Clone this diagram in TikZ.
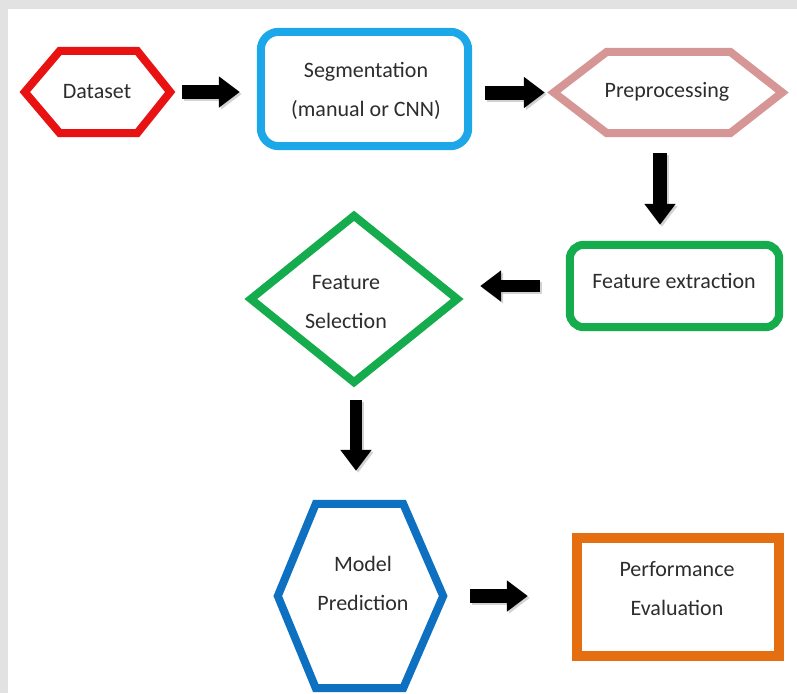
\documentclass[tikz,border=0pt]{standalone}
\usepackage{fontspec}
\setmainfont{Carlito}
\usetikzlibrary{arrows.meta,calc}
\definecolor{dsred}{RGB}{232,18,18}
\definecolor{segblue}{RGB}{28,168,232}
\definecolor{prepink}{RGB}{214,150,150}
\definecolor{fgreen}{RGB}{20,172,76}
\definecolor{mpblue}{RGB}{14,112,192}
\definecolor{peorange}{RGB}{228,110,16}
\definecolor{txtgray}{RGB}{45,45,45}
\definecolor{framegray}{RGB}{226,226,226}
\tikzset{
  box/.style={draw=none,inner sep=0pt,minimum width=#1},
  outline/.style={line width=8pt,line join=miter},
  lbl/.style={text=txtgray,align=center,inner sep=0pt,font=\fontsize{22}{39}\selectfont},
  blockarrow/.style={line width=14pt,-{Triangle[length=21pt,width=30pt]},black},
  arrowshadow/.style={line width=14pt,-{Triangle[length=21pt,width=30pt]},black!35,opacity=0.5,transform canvas={shift={(2pt,-2pt)}}}
}
\begin{document}
\begin{tikzpicture}[x=1pt,y=-1pt]
\useasboundingbox (0,0) rectangle (797,693);
\fill[framegray] (0,0) rectangle (797,693);
\fill[white] (8,9) rectangle (797,693);

% shape nodes (invisible frames)
\node[box=145pt,minimum height=82pt] (ds) at (97.5,92) {};
\node[box=207pt,minimum height=114pt] (seg) at (364.5,89) {};
\node[box=228pt,minimum height=81pt] (pre) at (668,92.5) {};
\node[box=209pt,minimum height=82pt] (fe) at (674.5,286) {};
\node[box=206pt,minimum height=166pt] (fs) at (354,299) {};
\node[box=165pt,minimum height=184pt] (mp) at (360.5,596) {};
\node[box=202pt,minimum height=118pt] (pe) at (678,597) {};

% outlines
\draw[outline,dsred] (ds.west) -- ([xshift=35pt]ds.north west) -- ([xshift=-33pt]ds.north east) -- (ds.east) -- ([xshift=-33pt]ds.south east) -- ([xshift=35pt]ds.south west) -- cycle;
\draw[outline,segblue,rounded corners=18pt] (seg.north west) rectangle (seg.south east);
\draw[outline,prepink] (pre.west) -- ([xshift=53pt]pre.north west) -- ([xshift=-52pt]pre.north east) -- (pre.east) -- ([xshift=-52pt]pre.south east) -- ([xshift=53pt]pre.south west) -- cycle;
\draw[outline,fgreen,rounded corners=14pt] (fe.north west) rectangle (fe.south east);
\draw[outline,fgreen] (fs.north) -- (fs.east) -- (fs.south) -- (fs.west) -- cycle;
\draw[outline,mpblue] (mp.west) -- ([xshift=38pt]mp.north west) -- ([xshift=-40pt]mp.north east) -- (mp.east) -- ([xshift=-40pt]mp.south east) -- ([xshift=38pt]mp.south west) -- cycle;
\draw[line width=10pt,peorange] (pe.north west) rectangle (pe.south east);

% labels
\node[lbl] (dsT) at (97,92) {Dataset};
\node[lbl] (segT) at (366,91) {Segmentation\\(manual or CNN)};
\node[lbl] (preT) at (667,92) {Preprocessing};
\node[lbl] (feT) at (674,281) {Feature extraction};
\node[lbl] (fsT) at (346,302) {Feature\\Selection};
\node[lbl] (mpT) at (363,583) {Model\\Prediction};
\node[lbl] (peT) at (677,589) {Performance\\Evaluation};

% arrow shadows
\draw[arrowshadow,shorten <=12pt,shorten >=21pt] (ds.east) -- (seg.west |- ds.east);
\draw[arrowshadow,shorten <=17pt,shorten >=9pt] (seg.east |- pre.west) -- (pre.west);
\draw[arrowshadow,shorten <=20pt,shorten >=20pt] ([xshift=-8pt]pre.south) -- ([xshift=-8pt]pre.south |- fe.north);
\draw[arrowshadow,line width=12pt,shorten <=30pt,shorten >=23pt] (fe.west) -- (fe.west -| fs.east);
\draw[arrowshadow,line width=12pt,shorten <=18pt,shorten >=33pt] ([xshift=2pt]fs.south) -- ([xshift=2pt]fs.south |- mp.north);
\draw[arrowshadow,shorten <=27pt,shorten >=49pt] (mp.east) -- (mp.east -| pe.west);

% arrows
\draw[blockarrow,shorten <=12pt,shorten >=21pt] (ds.east) -- (seg.west |- ds.east);
\draw[blockarrow,shorten <=17pt,shorten >=9pt] (seg.east |- pre.west) -- (pre.west);
\draw[blockarrow,shorten <=20pt,shorten >=20pt] ([xshift=-8pt]pre.south) -- ([xshift=-8pt]pre.south |- fe.north);
\draw[blockarrow,line width=12pt,shorten <=30pt,shorten >=23pt] (fe.west) -- (fe.west -| fs.east);
\draw[blockarrow,line width=12pt,shorten <=18pt,shorten >=33pt] ([xshift=2pt]fs.south) -- ([xshift=2pt]fs.south |- mp.north);
\draw[blockarrow,shorten <=27pt,shorten >=49pt] (mp.east) -- (mp.east -| pe.west);
\end{tikzpicture}
\end{document}
